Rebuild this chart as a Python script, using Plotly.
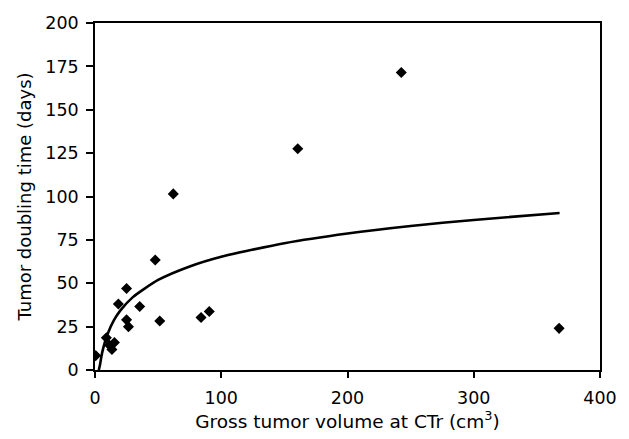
import plotly.graph_objects as go

# Scatter data
volume = [0.5, 9, 11.5, 13.4, 15.4, 18.5, 25, 25, 26.5, 35.4, 47.7, 51.3, 62, 84, 90.5, 160.6, 242.6, 367.6]
doubling = [8.3, 18.6, 14.3, 11.8, 15.8, 38, 47, 28.9, 25, 36.6, 63.4, 28.2, 101.5, 30.3, 33.7, 127.5, 171.5, 24]

# Fitted curve
curve_x = [3, 4, 5, 6, 8, 10, 15, 20, 30, 50, 75, 100, 150, 200, 250, 300, 368]
curve_y = [0, 3.2, 7.5, 11, 16.5, 20.8, 28.7, 34.2, 42, 51.9, 59.7, 65.3, 73.1, 78.7, 83, 86.5, 90.5]

x_ticks = [0, 100, 200, 300, 400]
y_ticks = [0, 25, 50, 75, 100, 125, 150, 175, 200]

fig = go.Figure()
fig.add_trace(go.Scatter(x=curve_x, y=curve_y, mode="lines",
                         line=dict(color="black", width=2.6, shape="spline", smoothing=0.6),
                         showlegend=False, hoverinfo="skip"))
fig.add_trace(go.Scatter(x=volume, y=doubling, mode="markers",
                         marker=dict(symbol="diamond", size=8.5, color="black"),
                         showlegend=False))

font_family = "DejaVu Sans, sans-serif"
fig.update_layout(
    width=629, height=439,
    margin=dict(l=95, r=20.5, t=22.5, b=66.5),
    paper_bgcolor="white", plot_bgcolor="white",
    font=dict(family=font_family, size=18, color="black"),
)
fig.update_xaxes(range=[0, 400], tickvals=x_ticks, ticks="outside", ticklen=6,
                 tickcolor="black", tickwidth=1.5, showline=True, linecolor="black", linewidth=1.5,
                 mirror=True, showgrid=False, zeroline=False, ticklabelstandoff=5,
                 title=dict(text="Gross tumor volume at CTr (cm<sup>3</sup>)", standoff=6,
                            font=dict(size=18.5)),
                 tickfont=dict(size=17.5))
fig.update_yaxes(range=[0, 200], tickvals=y_ticks, ticks="outside", ticklen=7,
                 tickcolor="black", tickwidth=1.5, showline=True, linecolor="black", linewidth=1.5,
                 mirror=True, showgrid=False, zeroline=False, ticklabelstandoff=4,
                 title=dict(text="Tumor doubling time (days)", standoff=9,
                            font=dict(size=18)),
                 tickfont=dict(size=17.5))

fig.write_html("out.html", config={"displayModeBar": False},
               post_script="document.body.style.margin='0';")
